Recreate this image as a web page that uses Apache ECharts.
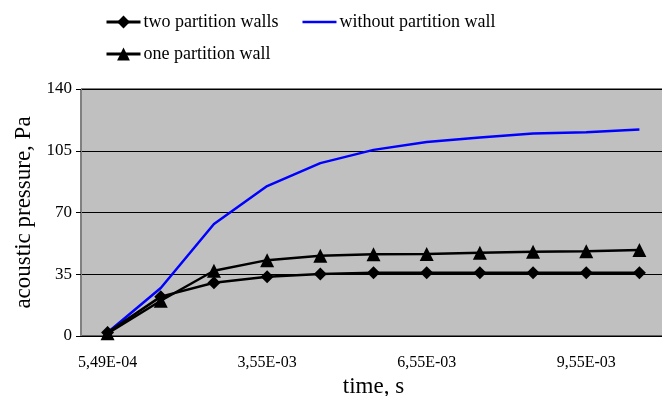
<!DOCTYPE html>
<html lang="en">
<head>
    <meta charset="UTF-8">
    <title>acoustic pressure</title>
    <script src="https://cdn.jsdelivr.net/npm/echarts@6/dist/echarts.min.js"></script>
</head>
<body style="margin:0">
    <div id="main" style="width:662px; height:396px;"></div>
    <script type="text/javascript">
        var times = ['5,49E-04', '1,55E-03', '2,55E-03', '3,55E-03', '4,55E-03', '5,55E-03',
            '6,55E-03', '7,55E-03', '8,55E-03', '9,55E-03', '1,055E-02'];
        var twoWalls = [2, 22.3, 30.2, 33.6, 35.2, 35.8, 35.8, 35.8, 35.8, 35.8, 35.8];
        var noWall = [2, 27.2, 63.5, 85, 98, 105.5, 110, 112.5, 114.8, 115.5, 117];
        var oneWall = [1.5, 20, 37, 43, 45.5, 46.3, 46.5, 47.2, 47.8, 48, 48.7];
        var yTicks = [0, 35, 70, 105, 140];

        var font = '"Liberation Serif", "Times New Roman", serif';
        var myChart = echarts.init(document.getElementById('main'));

        var legendText = { fontSize: 18, color: '#000', fontFamily: font, padding: [0, 0, 0, -2] };

        myChart.setOption({
            backgroundColor: '#fff',
            animation: false,
            textStyle: { fontFamily: font },
            legend: [
                {
                    left: 100, top: 8,
                    itemWidth: 34, itemHeight: 16, itemGap: 24,
                    lineStyle: { width: 3 },
                    textStyle: legendText,
                    data: [
                        'two partition walls',
                        { name: 'without partition wall', icon: 'path://M0,0H40V3H0Z' }
                    ]
                },
                {
                    left: 100, top: 40,
                    itemWidth: 34, itemHeight: 16,
                    lineStyle: { width: 3 },
                    textStyle: legendText,
                    data: ['one partition wall']
                }
            ],
            grid: {
                left: 81, top: 89, right: -4, bottom: 60,
                outerBoundsMode: 'none',
                containLabel: false,
                show: true,
                backgroundColor: '#C0C0C0',
                borderColor: '#000',
                borderWidth: 1
            },
            xAxis: {
                type: 'category',
                data: times,
                boundaryGap: true,
                name: 'time, s',
                nameLocation: 'middle',
                nameGap: 37,
                nameTextStyle: { fontSize: 23, color: '#000', fontFamily: font },
                axisLine: { lineStyle: { color: '#000', width: 1 } },
                axisTick: { interval: 0, length: 5, lineStyle: { color: '#000' } },
                axisLabel: { interval: 2, color: '#000', fontSize: 16, margin: 19, fontFamily: font },
                splitLine: { show: false }
            },
            yAxis: {
                type: 'value',
                min: yTicks[0],
                max: yTicks[yTicks.length - 1],
                interval: 35,
                name: 'acoustic pressure, Pa',
                nameLocation: 'middle',
                nameGap: 46,
                nameTextStyle: { fontSize: 23, color: '#000', fontFamily: font },
                axisLine: { show: true, lineStyle: { color: '#808080', width: 1 } },
                axisTick: { show: true, length: 5, lineStyle: { color: '#000' } },
                axisLabel: { color: '#000', fontSize: 17, margin: 9, fontFamily: font },
                splitLine: { lineStyle: { color: '#000', width: 1 } }
            },
            series: [
                {
                    name: 'two partition walls',
                    type: 'line',
                    data: twoWalls,
                    symbol: 'diamond',
                    symbolSize: 13,
                    itemStyle: { color: '#000' },
                    lineStyle: { color: '#000', width: 2.5 },
                    z: 3
                },
                {
                    name: 'without partition wall',
                    type: 'line',
                    data: noWall,
                    showSymbol: false,
                    symbol: 'none',
                    itemStyle: { color: '#0000FF' },
                    lineStyle: { color: '#0000FF', width: 2.5 },
                    z: 2
                },
                {
                    name: 'one partition wall',
                    type: 'line',
                    data: oneWall,
                    symbol: 'triangle',
                    symbolSize: 14,
                    itemStyle: { color: '#000' },
                    lineStyle: { color: '#000', width: 2.5 },
                    z: 3
                }
            ]
        });
    </script>
</body>
</html>
